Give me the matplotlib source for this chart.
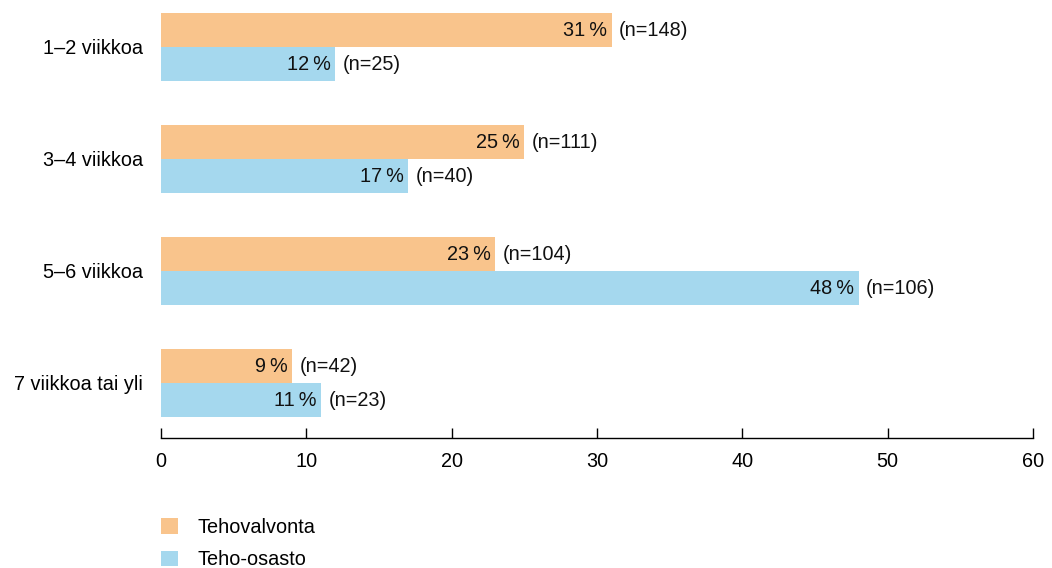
import matplotlib.pyplot as plt
import numpy as np
from matplotlib.patches import Patch

categories = ["1–2 viikkoa", "3–4 viikkoa", "5–6 viikkoa", "7 viikkoa tai yli"]
tehovalvonta_pct = [31, 25, 23, 9]
tehovalvonta_n = [148, 111, 104, 42]
teho_osasto_pct = [12, 17, 48, 11]
teho_osasto_n = [25, 40, 106, 23]
series_names = ["Tehovalvonta", "Teho-osasto"]
x_ticks = [0, 10, 20, 30, 40, 50, 60]

orange = "#F9C48C"
blue = "#A5D8EE"

plt.rcParams["font.family"] = ["Liberation Sans", "DejaVu Sans"]
fs = 14.3

fig = plt.figure(figsize=(10.52, 5.68), dpi=100)
ax = fig.add_axes([161 / 1052, (568 - 438) / 568, (1033 - 161) / 1052, 438 / 568])

y = np.arange(len(categories))
h = 34 / 112

groups = [
    (tehovalvonta_pct, tehovalvonta_n, orange, -h / 2),
    (teho_osasto_pct, teho_osasto_n, blue, h / 2),
]
for pct, ns, color, off in groups:
    bars = ax.barh(y + off, pct, height=h, color=color, linewidth=0)
    for bar, p, n in zip(bars, pct, ns):
        yc = bar.get_y() + bar.get_height() / 2
        ax.annotate(f"{p}\u2009%", (p, yc), xytext=(-3, -0.5), textcoords="offset points",
                    ha="right", va="center", fontsize=fs, color="#111111")
        ax.annotate(f"(n={n})", (p, yc), xytext=(5.5, -0.5), textcoords="offset points",
                    ha="left", va="center", fontsize=fs, color="#111111")

ax.set_xlim(0, 60)
ax.set_ylim(3 + 55 / 112, -47 / 112)
ax.set_xticks(x_ticks)
ax.set_yticks(y)
ax.set_yticklabels(categories)

for side in ["top", "right", "left"]:
    ax.spines[side].set_visible(False)
ax.spines["bottom"].set_linewidth(1.0)
ax.tick_params(axis="x", direction="in", length=7.5, width=1.0, pad=10, labelsize=fs)
ax.tick_params(axis="y", length=0, pad=13, labelsize=fs)

handles = [Patch(facecolor=orange, edgecolor="none"), Patch(facecolor=blue, edgecolor="none")]
fig.legend(handles, series_names, loc="upper left", bbox_to_anchor=(143 / 1052, 1 - 500 / 568),
           frameon=False, fontsize=fs, handlelength=0.85, handleheight=0.85,
           handletextpad=1.0, labelspacing=0.68)

fig.savefig("out.png", dpi=100)
